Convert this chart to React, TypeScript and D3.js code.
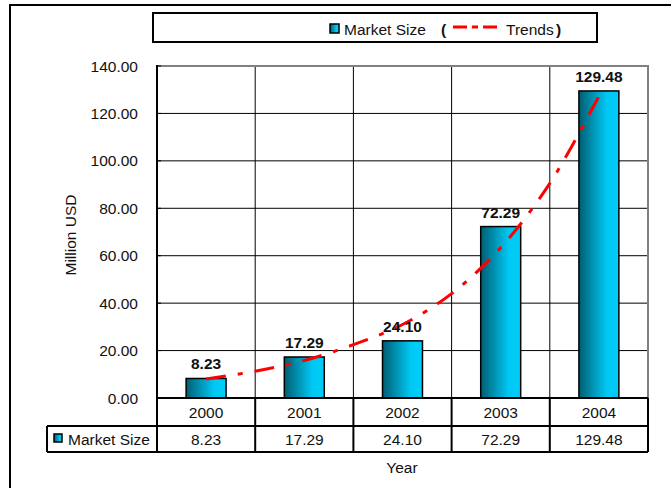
import React from "react";
import * as d3 from "d3";

// Market size by year (million USD)
const years = ["2000", "2001", "2002", "2003", "2004"];
const marketSize = [8.23, 17.29, 24.1, 72.29, 129.48];

// Trend curve samples (year position, value)
const trendYears = [2000, 2000.5, 2001, 2001.5, 2002, 2002.5, 2003, 2003.5, 2004];
const trendValues = [8.0, 11.3, 15.8, 22.5, 31.0, 44.0, 63.4, 90.5, 127.3];

const yTicks = [0, 20, 40, 60, 80, 100, 120, 140];

const W = 671;
const H = 488;
const plot = { left: 157, right: 648, top: 66, bottom: 398 };
const FONT = "Arial, 'Liberation Sans', Helvetica, sans-serif";

export default function App() {
  const x = d3
    .scaleBand<string>()
    .domain(years)
    .range([plot.left, plot.right])
    .paddingInner(0.593)
    .paddingOuter(0.2965);
  const step = x.step();
  const y = d3.scaleLinear().domain([0, 140]).range([plot.bottom, plot.top]);

  const xTrend = d3
    .scaleLinear()
    .domain([2000, 2004])
    .range([x("2000")! + x.bandwidth() / 2, x("2004")! + x.bandwidth() / 2]);

  const trendLine = d3
    .line<number>()
    .x((_, i) => xTrend(trendYears[i]))
    .y((d) => y(d))
    .curve(d3.curveCatmullRom);

  const row1Top = plot.bottom;
  const row1Bottom = 426;
  const row2Bottom = 452;
  const tableLeft = 47;

  return (
    <svg width={W} height={H} style={{ display: "block", position: "absolute", left: 0, top: 0 }} fontFamily={FONT}>
      <defs>
        <linearGradient id="barGrad" x1="0" x2="1" y1="0" y2="0">
          <stop offset="0" stopColor="#005e72" />
          <stop offset="0.7" stopColor="#00c8f4" />
          <stop offset="1" stopColor="#00ccf8" />
        </linearGradient>
      </defs>
      <rect x={0} y={0} width={W} height={H} fill="#fff" />
      {/* outer frame */}
      <path d={`M10,${H + 5} L10,5 L${W + 5},5`} fill="none" stroke="#000" strokeWidth={2} />

      {/* legend */}
      <rect x={153} y={13} width={444} height={29} fill="#fff" stroke="#000" strokeWidth={2} />
      <rect x={330} y={24} width={9} height={9} fill="url(#barGrad)" stroke="#000" strokeWidth={1.5} />
      <text x={344} y={35} fontSize={15.5} fill="#111">Market Size</text>
      <text x={441} y={35} fontSize={15.5} fontWeight="bold" fill="#111">(</text>
      <line x1={453} x2={500} y1={27} y2={27} stroke="#ff0000" strokeWidth={3} strokeDasharray="14 5 6 5" />
      <text x={506} y={35} fontSize={15.5} fill="#111">Trends</text>
      <text x={556} y={35} fontSize={15.5} fontWeight="bold" fill="#111">)</text>

      {/* horizontal gridlines */}
      {yTicks.slice(1, -1).map((t) => (
        <line key={t} x1={plot.left} x2={plot.right} y1={y(t)} y2={y(t)} stroke="#000" strokeWidth={1} />
      ))}
      {/* vertical gridlines */}
      {years.slice(1).map((yr) => (
        <line
          key={yr}
          x1={x(yr)! - (step - x.bandwidth()) / 2}
          x2={x(yr)! - (step - x.bandwidth()) / 2}
          y1={plot.top}
          y2={plot.bottom}
          stroke="#000"
          strokeWidth={1}
        />
      ))}
      {/* plot border */}
      <path
        d={`M${plot.left},${plot.top} L${plot.right},${plot.top} L${plot.right},${plot.bottom}`}
        fill="none"
        stroke="#808080"
        strokeWidth={2}
      />
      <line x1={plot.left} x2={plot.left} y1={plot.top - 1} y2={row2Bottom} stroke="#000" strokeWidth={2} />

      {/* y ticks */}
      {yTicks.map((t) => (
        <g key={t}>
          <line x1={plot.left} x2={plot.left + 4} y1={y(t)} y2={y(t)} stroke="#000" strokeWidth={1} />
          <text x={138} y={y(t) + 5.5} textAnchor="end" fontSize={15.5} fill="#111">
            {t.toFixed(2)}
          </text>
        </g>
      ))}
      <text
        transform={`translate(76,235) rotate(-90)`}
        textAnchor="middle"
        fontSize={15.5}
        fill="#111"
      >
        Million USD
      </text>

      {/* bars */}
      {years.map((yr, i) => (
        <rect
          key={yr}
          x={x(yr)}
          y={y(marketSize[i])}
          width={x.bandwidth()}
          height={plot.bottom - y(marketSize[i])}
          fill="url(#barGrad)"
          stroke="#000"
          strokeWidth={1.5}
        />
      ))}

      {/* trend */}
      <path
        d={trendLine(trendValues) || ""}
        fill="none"
        stroke="#ff0000"
        strokeWidth={3}
        strokeDasharray="20 12 5 12"
      />

      {/* value labels */}
      {years.map((yr, i) => (
        <text
          key={yr}
          x={x(yr)! + x.bandwidth() / 2}
          y={y(marketSize[i]) - 9}
          textAnchor="middle"
          fontSize={15.5}
          fontWeight="bold"
          fill="#111"
        >
          {marketSize[i].toFixed(2)}
        </text>
      ))}

      {/* data table */}
      <g stroke="#000" strokeWidth={2} fill="none">
        <line x1={plot.left} x2={plot.right} y1={row1Top} y2={row1Top} />
        <line x1={tableLeft} x2={plot.right} y1={row1Bottom} y2={row1Bottom} />
        <line x1={tableLeft} x2={plot.right} y1={row2Bottom} y2={row2Bottom} />
        <line x1={tableLeft} x2={tableLeft} y1={row1Bottom} y2={row2Bottom} />
        {years.map((yr) => {
          const xx = x(yr)! - (step - x.bandwidth()) / 2 + step;
          return <line key={yr} x1={xx} x2={xx} y1={row1Top} y2={row2Bottom} />;
        })}
      </g>
      {years.map((yr, i) => (
        <g key={yr}>
          <text x={x(yr)! + x.bandwidth() / 2} y={418} textAnchor="middle" fontSize={15.5} fill="#111">
            {yr}
          </text>
          <text x={x(yr)! + x.bandwidth() / 2} y={445} textAnchor="middle" fontSize={15.5} fill="#111">
            {marketSize[i].toFixed(2)}
          </text>
        </g>
      ))}
      <rect x={54} y={434} width={8} height={8} fill="url(#barGrad)" stroke="#000" strokeWidth={1.5} />
      <text x={68} y={445} fontSize={15.5} fill="#111">Market Size</text>

      <text x={402} y={473} textAnchor="middle" fontSize={15.5} fill="#111">Year</text>
    </svg>
  );
}
